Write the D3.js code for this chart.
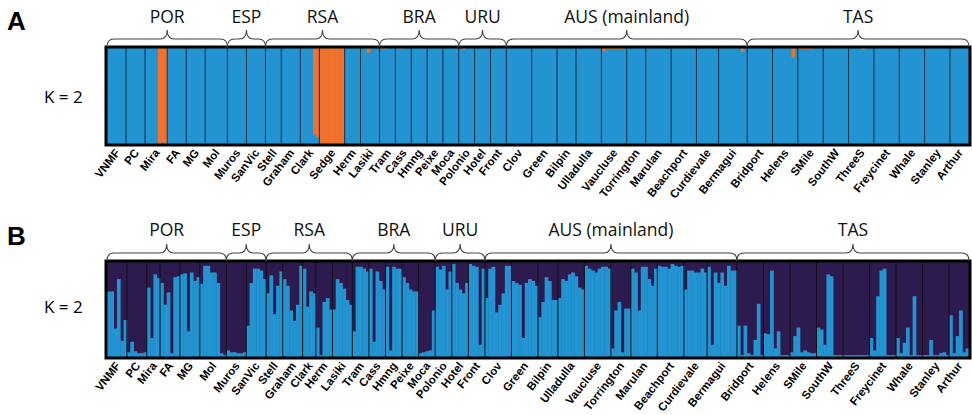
<!DOCTYPE html>
<html lang="en">
  <head>
    <meta charset="UTF-8" />
    <title>STRUCTURE K = 2</title>
    <script src="https://d3js.org/d3.v7.min.js"></script>
    <style>
      body { margin: 0; background: #fff; }
    </style>
  </head>
  <body>
    <div id="chart"></div>
    <script>
      // panel A: membership in the orange cluster, one value per individual
      var popsA = ["VNMF","PC","Mira","FA","MG","Mol","Muros","SanVic","Stell","Graham","Clark","Sedge","Herm","Lasiki",
        "Tram","Cass","Hmng","Peixe","Moca","Polonio","Hotel","Front","Clov","Green","Bilpin","Ulladulla","Vaucluse",
        "Torrington","Marulan","Beachport","Curdievale","Bermagui","Bridport","Helens","SMile","SouthW","ThreeS",
        "Freycinet","Whale","Stanley","Arthur"];
      var orangeA = [
        [0,0,0,0,0,0], [0,0,0,0,0,0], [0,0,0,0,1,0.98,1], [0,0,0,0,0,0], [0,0,0,0,0,0], [0,0,0,0,0,0,0],
        [0,0,0,0,0,0], [0,0,0,0,0,0],
        [0,0,0,0,0], [0,0,0,0,0,0], [0,0,0,0,0.9,0.93], [1,1,1,1,1,1,1,1], [0,0,0,0,0], [0,0,0.05,0,0,0],
        [0.01,0.01,0,0,0], [0,0.01,0,0,0], [0,0,0,0,0], [0,0,0,0,0], [0,0,0,0,0],
        [0,0.02,0,0,0], [0,0,0,0,0], [0,0,0,0,0],
        [0,0,0,0,0,0,0,0], [0,0,0,0,0,0,0,0], [0,0,0,0,0,0], [0,0,0,0,0,0,0,0], [0.03,0.01,0.01,0.01,0.01,0.01,0.01,0],
        [0,0,0,0,0,0], [0,0,0,0,0,0,0,0], [0,0,0,0,0,0,0,0], [0,0,0,0,0,0,0], [0,0,0,0,0,0,0,0.04,0],
        [0,0,0,0,0,0,0,0], [0,0,0,0,0,0,0.1,0], [0.01,0.01,0.01,0.01,0.01,0,0,0], [0,0,0,0,0,0,0,0], [0,0,0,0,0.02,0,0,0],
        [0,0,0,0,0,0,0,0], [0,0,0,0,0,0,0,0], [0,0,0,0,0,0,0,0], [0,0,0,0,0,0]
      ];

      // panel B: membership in the light blue cluster
      var popsB = ["VNMF","PC","Mira","FA","MG","Mol","Muros","SanVic","Stell","Graham","Clark","Herm","Lasiki",
        "Tram","Cass","Hmng","Peixe","Moca","Polonio","Hotel","Front","Clov","Green","Bilpin","Ulladulla","Vaucluse",
        "Torrington","Marulan","Beachport","Curdievale","Bermagui","Bridport","Helens","SMile","SouthW","ThreeS",
        "Freycinet","Whale","Stanley","Arthur"];
      var blueB = [
        [0.69,0.69,0.3,0.82,0.17,0.39],
        [0.05,0.16,0.06,0.04,0.04,0.05],
        [0.73,0.2,0.87,0.83],
        [0.78,0.55,0.68,0.04,0.84,0.85],
        [0.87,0.88,0.27,0.89,0.8,0.84],
        [0.77,0.96,0.96,0.89,0.89,0.78,0.04,0.02],
        [0.07,0.05,0.05,0.04,0.04,0.05],
        [0.33,0.78,0.93,0.93,0.91,0.82],
        [0.67,0.86,0.45,0.75,0.9],
        [0.82,0.75,0.49,0.38,0.55,0.96],
        [0.93,0.53,0.69,0.67],
        [0.31,0.02,0.58,0.62,0.5],
        [0.5,0.82,0.78,0.72,0.6,0.55],
        [0.27,0.95,0.95,0.93,0.9],
        [0.93,0.16,0.9,0.8,0.71],
        [0.95,0.07,0.95,0.93,0.93],
        [0.84,0.78,0.71,0.69,0.69],
        [0.04,0.05,0.06,0.07,0.49],
        [0.95,0.92,0.96,0.71,0.9],
        [0.98,0.78,0.71,0.67,0.78],
        [0.98,0.96,0.95,0.13,0.93],
        [0.62,0.93,0.95,0.47,0.55,0.67,0.96,0.96],
        [0.8,0.78,0.76,0.2,0.78,0.82,0.8,0.75],
        [0.42,0.58,0.84,0.8,0.6,0.6],
        [0.62,0.82,0.8,0.87,0.89,0.85,0.73,0.71],
        [0.96,0.93,0.91,0.89,0.93,0.95,0.95,0.93],
        [0.09,0.49,0.58,0.05,0.51,0.51],
        [0.93,0.89,0.49,0.95,0.95,0.82,0.75,0.93],
        [0.96,0.95,0.95,0.93,0.98,0.96,0.95,0.96],
        [0.71,0.91,0.91,0.89,0.89,0.93,0.89],
        [0.95,0.13,0.89,0.78,0.89,0.75,0.96,0.91,0.91],
        [0.33,0.02,0.33,0.04,0.02,0.18,0.56,0.02],
        [0.25,0.24,0.91,0.09,0.27,0.02,0.02,0.02],
        [0.05,0.22,0.31,0.05,0.07,0.05,0.04,0.04],
        [0.31,0.29,0.13,0.87,0.85,0.02,0.02,0.02],
        [0.02,0.02,0.02,0.02,0.02,0.02,0.02,0.02],
        [0.2,0.07,0.64,0.91,0.93,0.02,0.02,0.02],
        [0.2,0.04,0.15,0.31,0.02,0.64,0.02,0.02],
        [0.02,0.02,0.18,0.02,0.02,0.04,0.05,0.02],
        [0.44,0.04,0.22,0.49,0.05,0.09]
      ];

      // regions and the first population of each
      var regions = ["POR","ESP","RSA","BRA","URU","AUS (mainland)","TAS"];
      var regionStart = ["VNMF","Muros","Stell","Tram","Polonio","Clov","Bridport"];

      var blue = "#2394d2";
      var orange = "#f2722b";
      var purple = "#2d1a4f";

      var width = 972;
      var height = 415;
      var left = 107;
      var right = 969;

      var svg = d3
        .select("#chart")
        .append("svg")
        .attr("width", width)
        .attr("height", height);

      function drawPanel(pops, vals, top, bottom, back, fill, fromTop, sepColor, letter, letterY, kY, regionY) {
        var starts = [];
        var n = 0;
        vals.forEach(function (v) {
          starts.push(n);
          n += v.length;
        });
        var x = d3.scaleLinear().domain([0, n]).range([left, right]);
        var y = d3.scaleLinear().domain([0, 1]).range([bottom, top]);

        var ind = [];
        vals.forEach(function (v, p) {
          v.forEach(function (q, i) {
            ind.push({ i: starts[p] + i, q: q });
          });
        });

        var g = svg.append("g");
        g.append("rect")
          .attr("x", left)
          .attr("y", top)
          .attr("width", right - left)
          .attr("height", bottom - top)
          .attr("fill", back);

        g.selectAll("rect.ind")
          .data(ind)
          .enter()
          .append("rect")
          .attr("class", "ind")
          .attr("x", function (d) { return x(d.i); })
          .attr("width", function (d) { return x(d.i + 1) - x(d.i) + 0.4; })
          .attr("y", function (d) { return fromTop ? top : y(d.q); })
          .attr("height", function (d) { return fromTop ? y(1 - d.q) - top : bottom - y(d.q); })
          .attr("fill", fill);

        // population separators
        g.selectAll("line.sep")
          .data(starts.slice(1))
          .enter()
          .append("line")
          .attr("x1", function (d) { return x(d); })
          .attr("x2", function (d) { return x(d); })
          .attr("y1", top)
          .attr("y2", bottom)
          .attr("stroke", sepColor)
          .attr("stroke-width", 1);

        g.append("rect")
          .attr("x", left - 1)
          .attr("y", top - 1)
          .attr("width", right - left + 2)
          .attr("height", bottom - top + 2)
          .attr("fill", "none")
          .attr("stroke", "#000")
          .attr("stroke-width", 3);

        // population names
        g.selectAll("text.pop")
          .data(pops)
          .enter()
          .append("text")
          .attr("class", "pop")
          .attr("transform", function (d, p) {
            var cx = x(starts[p] + vals[p].length / 2) + 4;
            return "translate(" + cx + "," + (bottom + 9) + ") rotate(-52)";
          })
          .attr("text-anchor", "end")
          .style("font-family", "'Liberation Sans', Arial, sans-serif")
          .style("font-weight", "bold")
          .style("font-size", "11.5px")
          .text(function (d) { return d; });

        // curly brackets over regions
        regions.forEach(function (r, k) {
          var a = starts[pops.indexOf(regionStart[k])];
          var b = k < regions.length - 1 ? starts[pops.indexOf(regionStart[k + 1])] : n;
          var x0 = x(a), x1 = x(b), m = (x0 + x1) / 2;
          var yl = top - 9, yt = top - 18, c = 7;
          var path = "M" + x0 + "," + (top - 1) +
            " Q" + x0 + "," + yl + " " + (x0 + c) + "," + yl +
            " L" + (m - c) + "," + yl +
            " Q" + m + "," + yl + " " + m + "," + yt +
            " Q" + m + "," + yl + " " + (m + c) + "," + yl +
            " L" + (x1 - c) + "," + yl +
            " Q" + x1 + "," + yl + " " + x1 + "," + (top - 1);
          g.append("path")
            .attr("d", path)
            .attr("fill", "none")
            .attr("stroke", "#444")
            .attr("stroke-width", 1.1);
          g.append("text")
            .attr("x", m)
            .attr("y", regionY)
            .attr("text-anchor", "middle")
            .style("font-family", "'Open Sans', sans-serif")
            .style("font-size", "17.5px")
            .style("fill", "#111")
            .text(r);
        });

        svg.append("text")
          .attr("x", 7)
          .attr("y", letterY)
          .style("font-family", "'Liberation Sans', Arial, sans-serif")
          .style("font-weight", "bold")
          .style("font-size", "26px")
          .text(letter);

        svg.append("text")
          .attr("x", 44)
          .attr("y", kY)
          .style("font-family", "'Open Sans', sans-serif")
          .style("font-size", "17px")
          .text("K = 2");
      }

      drawPanel(popsA, orangeA, 48, 144, blue, orange, true, "#1c2c40", "A", 30, 103, 23);
      drawPanel(popsB, blueB, 262, 357, purple, blue, false, "#111", "B", 245, 313, 236);
    </script>
  </body>
</html>
